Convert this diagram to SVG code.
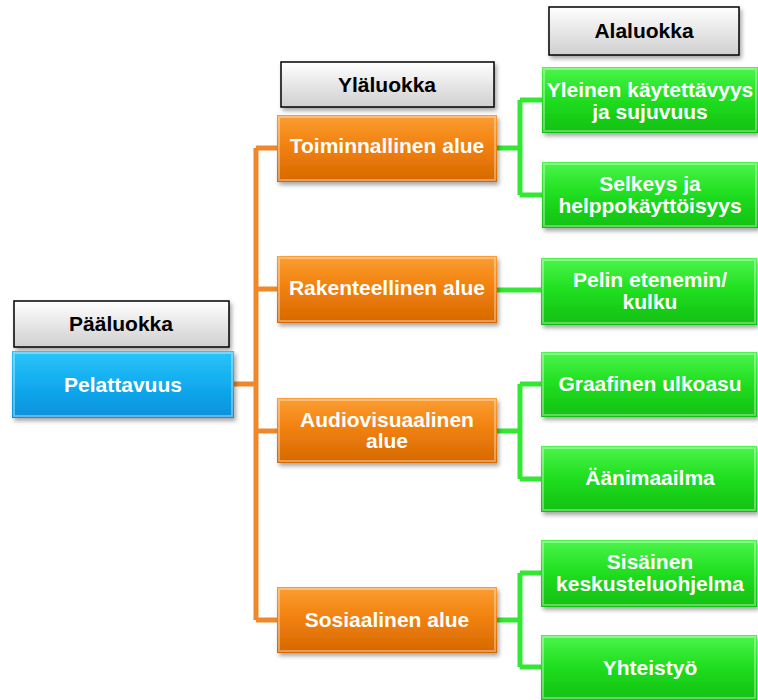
<svg xmlns="http://www.w3.org/2000/svg" width="758" height="700" viewBox="0 0 758 700">
<defs>
<linearGradient id="gHead" x1="0" y1="0" x2="0" y2="1"><stop offset="0" stop-color="#ffffff"/><stop offset="1" stop-color="#cfcfcf"/></linearGradient>
<linearGradient id="gOrange" x1="0" y1="0" x2="0" y2="1"><stop offset="0" stop-color="#fb9e34"/><stop offset="0.45" stop-color="#f2820f"/><stop offset="1" stop-color="#d66800"/></linearGradient>
<linearGradient id="gBlue" x1="0" y1="0" x2="0" y2="1"><stop offset="0" stop-color="#2cc4fa"/><stop offset="0.45" stop-color="#13aef0"/><stop offset="1" stop-color="#0a90dc"/></linearGradient>
<linearGradient id="gGreen" x1="0" y1="0" x2="0" y2="1"><stop offset="0" stop-color="#4cf54c"/><stop offset="0.45" stop-color="#22e022"/><stop offset="1" stop-color="#10c010"/></linearGradient>
<filter id="sh" x="-10%" y="-10%" width="125%" height="135%"><feDropShadow dx="2" dy="3" stdDeviation="2" flood-color="#000" flood-opacity="0.35"/></filter>
</defs>
<style>
.head{fill:url(#gHead);stroke:#000;stroke-width:1.5;filter:url(#sh)}
.or{fill:url(#gOrange);filter:url(#sh)}
.bl{fill:url(#gBlue);filter:url(#sh)}
.gr{fill:url(#gGreen);filter:url(#sh)}
.hl{fill:none;stroke:#fff;stroke-opacity:0.35;stroke-width:2}
.ht{font-family:"Liberation Sans",Arial,sans-serif;font-weight:bold;font-size:21px;fill:#000;text-anchor:middle}
.t{font-family:"Liberation Sans",Arial,sans-serif;font-weight:bold;font-size:21px;fill:#fff;text-anchor:middle}
.co{fill:none;stroke:#f0882a;stroke-width:5}
.cg{fill:none;stroke:#33e833;stroke-width:5}
</style>
<g id="connectors">
<path class="co" d="M234,384H256M256,148V620M256,148H277M256,289H277M256,431H277M256,620H277"/>
<path class="cg" d="M497,148H520M520,100V195M520,100H542M520,195H542"/>
<path class="cg" d="M497,290H542"/>
<path class="cg" d="M497,431H520M520,384V479M520,384H542M520,479H542"/>
<path class="cg" d="M497,620H520M520,573V667M520,573H542M520,667H542"/>
</g>
<g id="header-paaluokka"><rect class="head" x="14" y="301" width="215" height="46"/><text class="ht" x="121" y="331">Pääluokka</text></g>
<g id="header-ylaluokka"><rect class="head" x="281" y="62" width="213" height="45"/><text class="ht" x="387" y="92">Yläluokka</text></g>
<g id="header-alaluokka"><rect class="head" x="549" y="7" width="190" height="48"/><text class="ht" x="644" y="38">Alaluokka</text></g>
<g id="pelattavuus"><rect class="bl" x="12" y="351" width="222" height="67"/><rect class="hl" x="14" y="353" width="218" height="63"/><text class="t" x="123" y="392">Pelattavuus</text></g>
<g id="toiminnallinen"><rect class="or" x="277" y="115" width="220" height="67"/><rect class="hl" x="279" y="117" width="216" height="63"/><text class="t" x="387" y="153">Toiminnallinen alue</text></g>
<g id="rakenteellinen"><rect class="or" x="277" y="256" width="220" height="67"/><rect class="hl" x="279" y="258" width="216" height="63"/><text class="t" x="387" y="295">Rakenteellinen alue</text></g>
<g id="audiovisuaalinen"><rect class="or" x="277" y="398" width="220" height="65"/><rect class="hl" x="279" y="400" width="216" height="61"/><text class="t" x="387" y="427">Audiovisuaalinen</text><text class="t" x="387" y="448">alue</text></g>
<g id="sosiaalinen"><rect class="or" x="277" y="587" width="220" height="66"/><rect class="hl" x="279" y="589" width="216" height="62"/><text class="t" x="387" y="627">Sosiaalinen alue</text></g>
<g id="yleinen"><rect class="gr" x="542" y="67" width="216" height="66"/><rect class="hl" x="544" y="69" width="212" height="62"/><text class="t" x="650" y="97">Yleinen käytettävyys</text><text class="t" x="650" y="119">ja sujuvuus</text></g>
<g id="selkeys"><rect class="gr" x="542" y="162" width="216" height="66"/><rect class="hl" x="544" y="164" width="212" height="62"/><text class="t" x="650" y="191">Selkeys ja</text><text class="t" x="650" y="213">helppokäyttöisyys</text></g>
<g id="pelin"><rect class="gr" x="541" y="258" width="216" height="67"/><rect class="hl" x="543" y="260" width="212" height="63"/><text class="t" x="650" y="287">Pelin etenemin/</text><text class="t" x="650" y="309">kulku</text></g>
<g id="graafinen"><rect class="gr" x="541" y="352" width="216" height="65"/><rect class="hl" x="543" y="354" width="212" height="61"/><text class="t" x="650" y="391">Graafinen ulkoasu</text></g>
<g id="aanimaailma"><rect class="gr" x="541" y="446" width="216" height="66"/><rect class="hl" x="543" y="448" width="212" height="62"/><text class="t" x="650" y="485">Äänimaailma</text></g>
<g id="sisainen"><rect class="gr" x="541" y="540" width="216" height="67"/><rect class="hl" x="543" y="542" width="212" height="63"/><text class="t" x="650" y="569">Sisäinen</text><text class="t" x="650" y="591">keskusteluohjelma</text></g>
<g id="yhteistyo"><rect class="gr" x="541" y="635" width="216" height="65"/><rect class="hl" x="543" y="637" width="212" height="61"/><text class="t" x="650" y="675">Yhteistyö</text></g>
</svg>
